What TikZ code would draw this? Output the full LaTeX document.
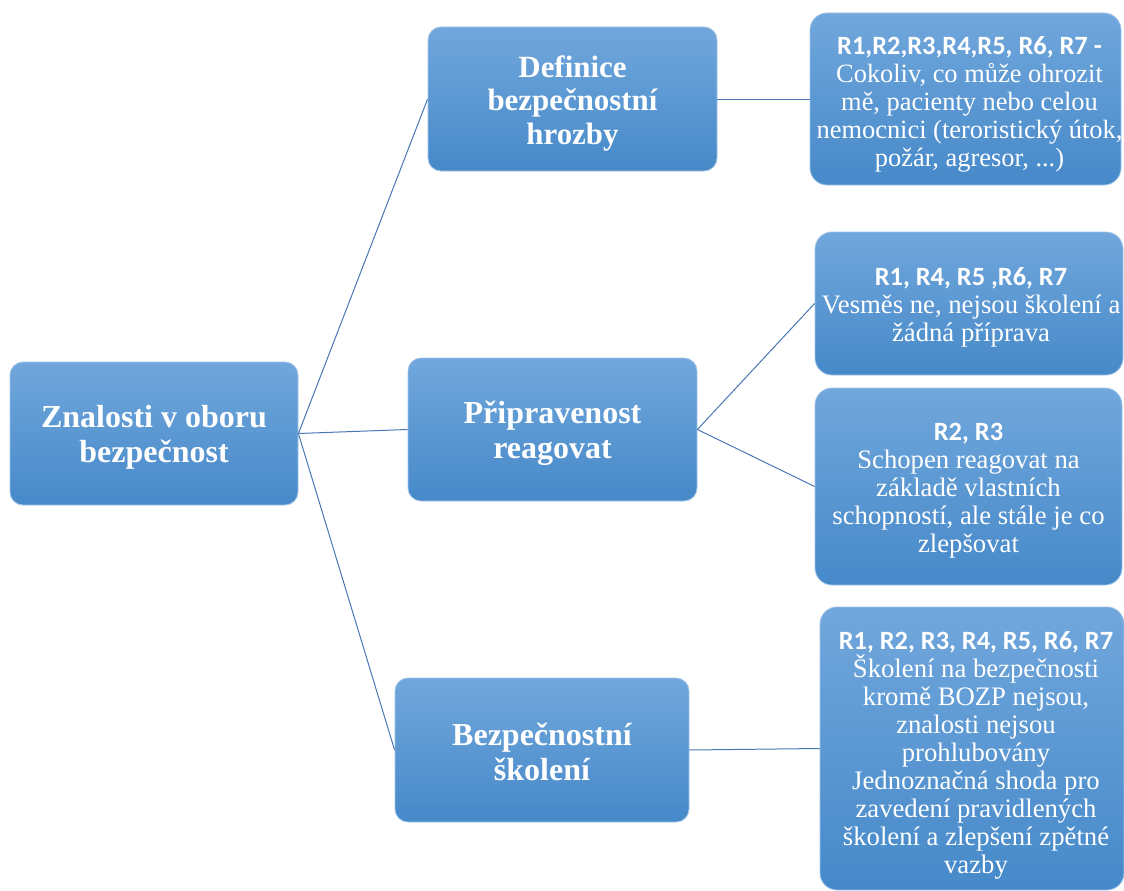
\documentclass[tikz,border=0pt]{standalone}
\usepackage{fontspec}
\setmainfont{Liberation Serif}
\newfontfamily\hdrfont{Carlito}
\begin{document}
\begin{tikzpicture}[x=1pt,y=-1pt,
  box/.style={rounded corners=13pt, top color=boxtop, bottom color=boxbot,
    draw=boxedge, line width=0.8pt, inner sep=0pt},
  notebox/.style={box, rounded corners=17pt},
  titletext/.style={inner sep=0pt, align=center, text=white,
    font=\bfseries\fontsize{32}{35}\selectfont},
  notetext/.style={inner sep=0pt, align=center, text=white,
    font=\fontsize{26.7}{28}\selectfont},
  link/.style={draw=linkblue, line width=1pt}]
\definecolor{boxtop}{RGB}{113,167,220}
\definecolor{boxbot}{RGB}{70,137,201}
\definecolor{boxedge}{RGB}{160,195,232}
\definecolor{linkblue}{RGB}{74,118,180}
\newcommand{\hdr}[1]{{\hdrfont\bfseries\fontsize{26.4}{28}\selectfont #1}}
\useasboundingbox (0,0) rectangle (1124,891);

% left and middle topic boxes
\node[box, minimum width=288, minimum height=143] (root) at (154,433.5) {};
\node[titletext] (roott) at ([yshift=-4]root.center) {Znalosti v oboru\\bezpečnost};
\node[box, minimum width=289, minimum height=144] (def) at (572.5,99) {};
\node[titletext, font=\bfseries\fontsize{30.9}{33.5}\selectfont] (deft) at ([yshift=-4]def.center)
  {Definice\\bezpečnostní\\hrozby};
\node[box, minimum width=289, minimum height=143] (prip) at (552.5,429.5) {};
\node[titletext] (pript) at ([yshift=-4]prip.center) {Připravenost\\reagovat};
\node[box, minimum width=294, minimum height=144] (skol) at (542,750) {};
\node[titletext] (skolt) at ([yshift=-2]skol.center) {Bezpečnostní\\školení};

% answer boxes
\node[notebox, minimum width=311, minimum height=172] (r1) at (965.5,99) {};
\node[notetext, font=\fontsize{26.4}{28}\selectfont] (r1t) at ([xshift=4,yshift=-5]r1.center)
  {\hdr{R1,R2,R3,R4,R5, R6, R7 -}\\Cokoliv, co může ohrozit\\mě, pacienty nebo celou\\nemocnici (teroristický útok,\\požár, agresor, ...)};
\node[notebox, minimum width=308, minimum height=143] (r2) at (969,303.5) {};
\node[notetext] (r2t) at ([xshift=2,yshift=-4]r2.center)
  {\hdr{R1, R4, R5 ,R6, R7}\\Vesměs ne, nejsou školení a\\žádná příprava};
\node[notebox, minimum width=307, minimum height=197] (r3) at (968.5,486.5) {};
\node[notetext] (r3t) at ([yshift=-4]r3.center)
  {\hdr{R2, R3}\\Schopen reagovat na\\základě vlastních\\schopností, ale stále je co\\zlepšovat};
\node[notebox, minimum width=304, minimum height=283] (r4) at (972,748.5) {};
\node[notetext] (r4t) at ([xshift=4,yshift=-7]r4.center)
  {\hdr{R1, R2, R3, R4, R5, R6, R7}\\Školení na bezpečnosti\\kromě BOZP nejsou,\\znalosti nejsou\\prohlubovány\\Jednoznačná shoda pro\\zavedení pravidlených\\školení a zlepšení zpětné\\vazby};

% connectors
\draw[link] (root.east) -- (def.west);
\draw[link] (root.east) -- (prip.west);
\draw[link] (root.east) -- (skol.west);
\draw[link] (def.east) -- (r1.west);
\draw[link] (prip.east) -- (r2.west);
\draw[link] (prip.east) -- (r3.west);
\draw[link] (skol.east) -- (r4.west);
\end{tikzpicture}
\end{document}
